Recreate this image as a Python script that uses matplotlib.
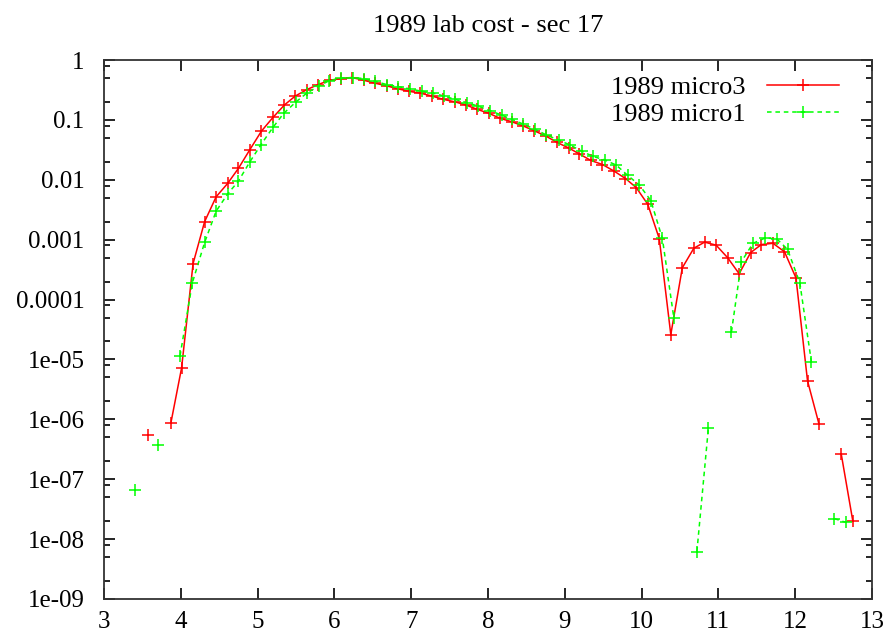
import numpy as np
import matplotlib
matplotlib.use("Agg")
import matplotlib.pyplot as plt
from matplotlib.ticker import FixedLocator, LogLocator, NullFormatter

plt.rcParams['font.family'] = ['Liberation Serif', 'DejaVu Serif']
plt.rcParams['font.size'] = 18

nan = np.nan

# 1989 micro3 (red, solid); nan breaks the line where gnuplot had gaps
micro3_x = [3.57, 3.72, 3.87, 4.01, 4.16, 4.31, 4.46, 4.61, 4.75, 4.90, 5.05,
            5.20, 5.35, 5.49, 5.64, 5.79, 5.94, 6.09, 6.23, 6.38, 6.53, 6.68,
            6.83, 6.97, 7.12, 7.27, 7.42, 7.57, 7.71, 7.86, 8.01, 8.16, 8.31,
            8.45, 8.60, 8.75, 8.90, 9.05, 9.19, 9.34, 9.49, 9.64, 9.79, 9.93,
            10.08, 10.23, 10.38, 10.53, 10.68, 10.82, 10.97, 11.12, 11.27,
            11.42, 11.56, 11.71, 11.86, 12.01, 12.16, 12.31, 12.45, 12.60,
            12.75]
micro3_y = [5.5e-7, nan, 8.6e-7, 7.2e-6, 4.0e-4, 2.0e-3, 5.2e-3, 8.7e-3,
            0.0155, 0.032, 0.065, 0.11, 0.178, 0.25, 0.32, 0.39, 0.46, 0.49,
            0.51, 0.46, 0.41, 0.37, 0.33, 0.30, 0.28, 0.25, 0.22, 0.20, 0.178,
            0.15, 0.129, 0.106, 0.093, 0.080, 0.066, 0.054, 0.042, 0.034,
            0.027, 0.021, 0.018, 0.014, 0.0105, 0.0074, 0.0039, 0.00104,
            2.6e-5, 3.4e-4, 7.2e-4, 9.1e-4, 8.1e-4, 5.0e-4, 2.7e-4, 6.1e-4,
            8.3e-4, 8.7e-4, 6.3e-4, 2.3e-4, 4.4e-6, 8.3e-7, nan, 2.6e-7, 2.0e-8]

# 1989 micro1 (green, dashed)
micro1_x = [3.40, 3.55, 3.70, 3.85, 3.99, 4.15, 4.31, 4.46, 4.61, 4.75, 4.90,
            5.04, 5.20, 5.34, 5.50, 5.64, 5.80, 5.93, 6.09, 6.24, 6.38, 6.53,
            6.68, 6.83, 6.98, 7.14, 7.28, 7.43, 7.57, 7.72, 7.87, 8.03, 8.18,
            8.31, 8.46, 8.61, 8.76, 8.92, 9.07, 9.22, 9.37, 9.52, 9.67, 9.82,
            9.97, 10.12, 10.27, 10.42, 10.57, 10.72, 10.87, 11.02, 11.17,
            11.30, 11.45, 11.61, 11.76, 11.90, 12.06, 12.21, 12.36, 12.51,
            12.66]
micro1_y = [6.6e-8, nan, 3.7e-7, nan, 1.15e-5, 1.9e-4, 9.0e-4, 3.0e-3, 5.8e-3,
            9.5e-3, 0.020, 0.038, 0.075, 0.129, 0.20, 0.28, 0.37, 0.45, 0.50,
            0.51, 0.49, 0.44, 0.39, 0.36, 0.33, 0.30, 0.28, 0.25, 0.22, 0.195,
            0.17, 0.142, 0.12, 0.102, 0.085, 0.070, 0.056, 0.046, 0.038, 0.030,
            0.0245, 0.0214, 0.0176, 0.0118, 0.0082, 0.0045, 0.00105, 4.9e-5,
            nan, 6.2e-9, 7.3e-7, nan, 2.9e-5, 4.3e-4, 8.7e-4, 1.07e-3, 1.03e-3,
            6.9e-4, 1.9e-4, 9.2e-6, nan, 2.2e-8, 1.9e-8]

x_ticks = [3, 4, 5, 6, 7, 8, 9, 10, 11, 12, 13]
y_ticks = [1, 1e-1, 1e-2, 1e-3, 1e-4, 1e-5, 1e-6, 1e-7, 1e-8, 1e-9]
y_tick_labels = ["1", "0.1", "0.01", "0.001", "0.0001", "1e-05", "1e-06",
                 "1e-07", "1e-08", "1e-09"]

fig, ax = plt.subplots(figsize=(8.92, 6.44), dpi=100)
plt.subplots_adjust(left=0.1166, right=0.9776, top=0.9068, bottom=0.0699)

ax.plot(micro3_x, micro3_y, color="#ff0000", lw=1.1, marker="+", ms=8,
        mew=1.1, label="1989 micro3")
ax.plot(micro1_x, micro1_y, color="#00ff00", lw=1.1, marker="+", ms=8,
        mew=1.1, dashes=(3, 2.5), label="1989 micro1")

ax.set_yscale("log")
ax.set_xlim(3, 13)
ax.set_ylim(1e-9, 1)
ax.set_xticks(x_ticks)
ax.yaxis.set_major_locator(FixedLocator(y_ticks))
ax.set_yticklabels(y_tick_labels)
ax.yaxis.set_minor_locator(LogLocator(base=10, subs=(2, 5, 8)))
ax.yaxis.set_minor_formatter(NullFormatter())

ax.tick_params(which="both", direction="in", top=True, right=True,
               width=1.2)
ax.tick_params(which="major", length=8, pad=9)
ax.tick_params(which="minor", length=4)
ax.tick_params(axis="y", which="major", pad=14)
for sp in ax.spines.values():
    sp.set_linewidth(1.3)
    sp.set_color("#333333")

ax.set_title("1989 lab cost - sec 17", fontsize=19, pad=20)

ax.legend(loc="upper right", frameon=False, markerfirst=False,
          handlelength=2.75, fontsize=19, labelspacing=0.12,
          bbox_to_anchor=(0.978, 1.0), borderaxespad=0.2)

fig.savefig("out.png", dpi=100)
